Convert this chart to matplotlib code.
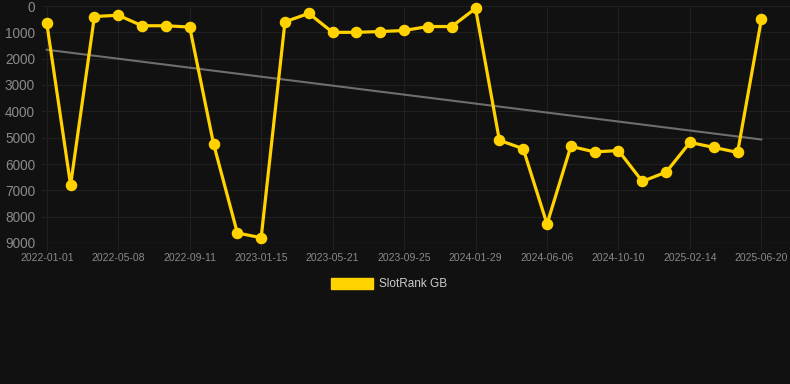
import numpy as np
import matplotlib
matplotlib.use('Agg')
import matplotlib.pyplot as plt
from matplotlib.patches import Patch

plt.rcParams['font.family'] = ['Liberation Sans', 'DejaVu Sans']

# tick labels every third sample
tick_labels = ['2022-01-01', '2022-05-08', '2022-09-11', '2023-01-15', '2023-05-21',
               '2023-09-25', '2024-01-29', '2024-06-06', '2024-10-10', '2025-02-14',
               '2025-06-20']

# rank values (lower is better, axis inverted)
rank = [650, 6800, 400, 350, 750, 750, 800, 5230, 8620, 8800,
        600, 280, 1000, 1000, 970, 930, 780, 780, 90, 5100,
        5420, 8280, 5330, 5540, 5490, 6660, 6310, 5180, 5370, 5560,
        500]

bg = '#111111'
grid_col = '#202020'
text_col = '#8a8a8a'
gold = '#FFD200'

x = np.arange(len(rank))

fig = plt.figure(figsize=(7.9, 3.84), dpi=100, facecolor=bg)
ax = fig.add_axes([42 / 790, 1 - 243 / 384, 1 - 42 / 790, 237 / 384])
ax.set_facecolor(bg)

# linear trend through the series
coef = np.polyfit(x, rank, 1)
ax.plot(x[[0, -1]], np.polyval(coef, x[[0, -1]]), color='#6e6e6e', linewidth=1.5, zorder=2)

ax.plot(x, rank, color=gold, linewidth=2.3, marker='o', markersize=7.3, zorder=3, clip_on=False)

ax.set_ylim(9000, 0)
ax.set_xlim(-0.2, 31.2)
ax.set_yticks(np.arange(0, 9001, 1000))
ax.set_xticks(x[::3])
ax.set_xticklabels(tick_labels)

ax.grid(True, color=grid_col, linewidth=0.8)
ax.set_axisbelow(True)
for s in ax.spines.values():
    s.set_visible(False)

ax.tick_params(axis='y', length=0, pad=5, labelsize=9.8, labelcolor=text_col)
ax.tick_params(axis='x', length=5, color=grid_col, pad=2, labelsize=7.5, labelcolor=text_col)
ax.axhline(9000, color='#2a2a2a', linewidth=1, zorder=1)

handle = Patch(facecolor=gold, edgecolor=gold)
leg = fig.legend([handle], ['SlotRank GB'], loc='center', bbox_to_anchor=(389 / 790, 1 - 284 / 384),
                 frameon=False, handlelength=3.6, handleheight=1.1, handletextpad=0.5,
                 fontsize=8.5, labelcolor='#cccccc')

fig.savefig('out.png', dpi=100, facecolor=bg)
